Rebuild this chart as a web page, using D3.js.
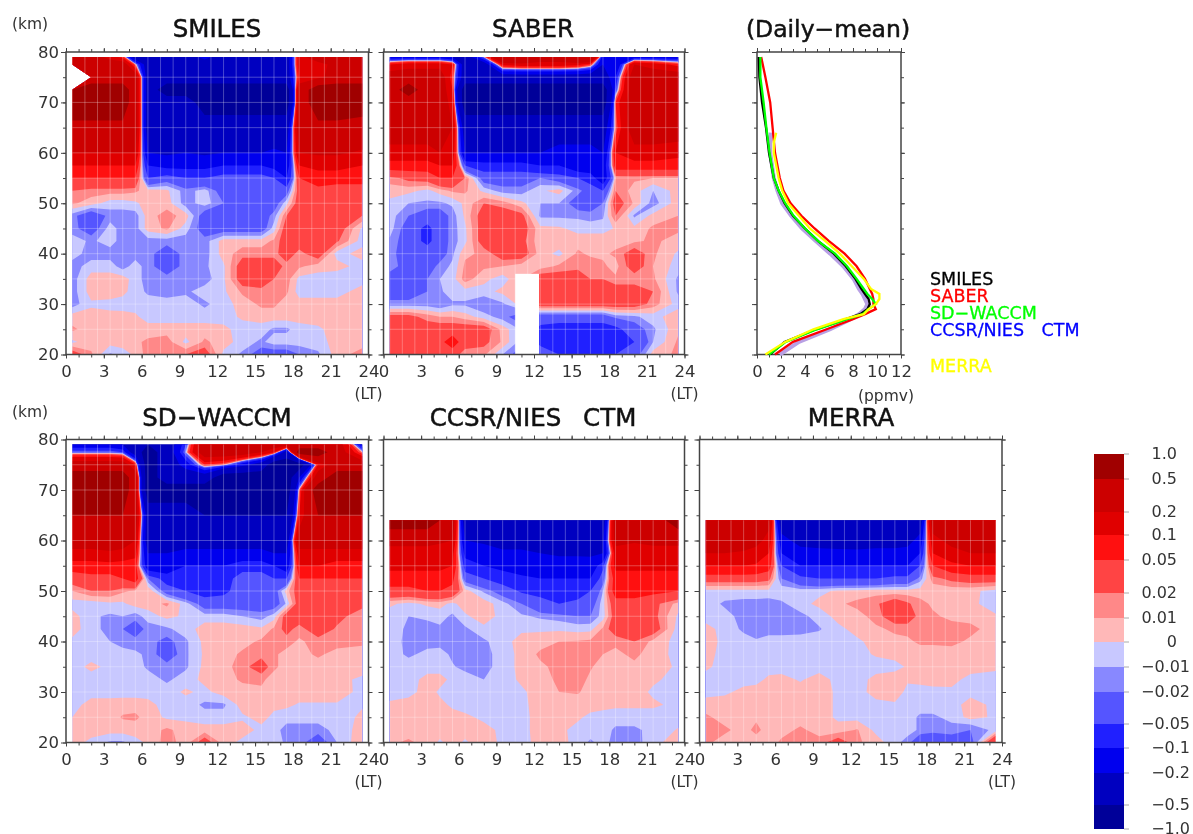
<!DOCTYPE html>
<html>
<head>
<meta charset="utf-8">
<title>Diurnal ozone variation</title>
<script src="https://cdn.jsdelivr.net/npm/d3@7"></script>
<style>
  html, body { margin: 0; padding: 0; background: #fff; }
  svg { display: block; filter: blur(0.45px); }
  text { font-family: "DejaVu Sans", sans-serif; fill: #333; }
  .axis line { stroke: #444; stroke-width: 1; }
  .axis path { display: none; }
  .axis text { font-family: "DejaVu Sans", sans-serif; font-size: 16.5px; fill: #333; }
  .title { fill: #111; stroke: #111; stroke-width: 0.5px; }
</style>
</head>
<body>
<svg id="chart" width="1193" height="834"></svg>
<script>
// local time and altitude of the grid columns and rows
var ltCols = [0.5, 2, 3.5, 4.5, 5.5, 6.5, 8, 9.5, 11, 12.5, 14, 15.5, 16.5, 17.5, 18.5, 20, 21.5, 23.5];
var kmFull = [79, 77.5, 75, 72.5, 70, 65, 60, 57.5, 55, 52.5, 50, 47.5, 45, 42.5, 40, 37.5, 35, 32.5, 30, 27.5, 25, 22.5, 20];
var kmLow = [64, 60, 57.5, 55, 52.5, 50, 47.5, 45, 42.5, 40, 37.5, 35, 32.5, 30, 27.5, 25, 22.5, 20];

var levels = [-1, -0.5, -0.2, -0.1, -0.05, -0.02, -0.01, 0, 0.01, 0.02, 0.05, 0.1, 0.2, 0.5, 1];
var levelLabels = ["\u22121.0", "\u22120.5", "\u22120.2", "\u22120.1", "\u22120.05", "\u22120.02", "\u22120.01", "0", "0.01", "0.02", "0.05", "0.1", "0.2", "0.5", "1.0"];
var bandColours = ["#000099", "#0000c0", "#0000ee", "#2020ff", "#5555ff", "#8888ff", "#c8c8ff", "#ffb8b8", "#ff8888", "#ff4444", "#ff1010", "#e00000", "#cc0000", "#a00000"];

var smiles = [
  [.3,.3,.15,.07,-.3,-.3,-.3,-.3,-.15,-.3,-.3,-.3,-.3,-.3,.15,.3,.3,.3],
  [.3,.3,.3,.3,.02,-.3,-.3,-.3,-.3,-.3,-.3,-.3,-.3,-.3,.15,.15,.25,.3],
  [null,.3,.3,.3,.3,-.3,-.3,-.3,-.3,-.3,-.3,-.3,-.3,-.3,.1,.15,.3,.3],
  [.7,.7,.7,.7,.3,-.3,-.7,-.7,-.7,-.7,-.7,-.7,-.7,-.7,.3,.7,.7,.7],
  [.7,.7,.7,.7,.3,-.3,-.3,-.3,-.7,-.7,-.7,-.7,-.7,-.7,.3,.7,.7,.7],
  [.42,.42,.42,.42,.3,-.3,-.3,-.3,-.3,-.3,-.3,-.3,-.3,-.3,.3,.42,.42,.35],
  [.2,.2,.2,.2,.2,-.2,-.22,-.2,-.22,-.2,-.2,-.2,-.18,-.2,.2,.22,.22,.18],
  [.1,.1,.1,.1,.1,-.1,-.12,-.12,-.12,-.1,-.1,-.1,-.12,-.15,.1,.12,.12,.1],
  [.05,.05,.05,.05,.05,-.05,-.03,-.05,-.05,-.03,-.03,-.03,-.05,-.1,.05,.07,.07,.07],
  [.02,.015,.015,.015,.012,.005,.002,-.015,-.005,-.03,-.03,-.03,-.03,-.03,.03,.04,.03,.03],
  [.012,.005,-.005,-.005,-.002,.005,.005,-.015,-.005,-.02,-.03,-.03,-.03,-.003,.03,.04,.03,.03],
  [-.015,-.035,-.015,-.015,-.015,.005,.015,.005,-.03,-.03,-.03,-.03,-.015,.02,.03,.04,.03,.02],
  [-.015,-.03,-.005,-.015,-.015,.005,.012,-.005,-.03,-.03,-.03,-.03,-.005,.03,.03,.03,.03,-.002],
  [-.005,-.012,-.005,-.015,-.015,-.015,-.015,-.015,-.015,.005,.005,.005,.012,.03,.03,.03,.022,-.005],
  [-.005,-.015,-.015,-.015,-.015,-.015,-.03,-.015,-.015,.005,.015,.015,.015,.03,.015,.03,-.005,.005],
  [-.015,-.005,-.005,-.015,-.005,-.015,-.03,-.015,-.012,-.002,.03,.03,.03,.015,.012,.005,.005,-.005],
  [-.015,.005,.005,.005,-.005,-.015,-.015,-.015,-.015,-.002,.03,.03,.02,.015,-.003,-.005,-.008,-.005],
  [-.015,.005,.008,.003,-.005,-.012,-.015,-.012,-.005,-.002,.012,.016,.015,.012,-.005,-.005,-.005,.005],
  [-.015,-.002,-.005,-.005,-.005,-.005,-.005,-.005,-.012,-.005,.005,.012,.012,.005,.005,.005,.005,.005],
  [.005,.005,.005,.004,.002,-.005,-.005,-.005,-.005,-.005,.002,.005,.005,.005,.005,.005,.005,.005],
  [.012,.005,.005,.005,.005,.005,.005,.005,.005,.003,-.005,-.005,-.012,-.012,-.005,-.002,.005,.005],
  [-.002,.005,.005,.005,.008,.012,.015,-.003,.012,.005,-.005,-.012,-.005,-.005,-.005,-.005,.005,.005],
  [.03,.012,-.012,-.005,.002,.015,.02,.02,.03,-.003,-.012,-.03,-.03,-.03,-.02,-.012,.005,.015]
];

var saber = [
  [-.15,-.15,-.15,-.15,-.2,-.3,-.01,.5,.5,.3,.3,.5,.5,-.15,-.15,-.15,-.15,-.15],
  [.1,.15,.15,.15,.1,-.3,-.3,.12,.15,.15,.15,.12,.05,-.2,-.2,.2,.15,.07],
  [.3,.3,.3,.3,.05,-.3,-.3,-.3,-.3,-.3,-.3,-.3,-.3,-.3,-.1,.3,.3,.3],
  [.3,.7,.3,.3,.1,-.7,-.7,-.7,-.7,-.7,-.7,-.7,-.7,-.7,-.05,.3,.3,.3],
  [.3,.3,.3,.3,.15,-.7,-.7,-.7,-.7,-.7,-.7,-.7,-.7,-.7,.05,.3,.3,.3],
  [.3,.3,.3,.3,.2,-.3,-.3,-.3,-.3,-.3,-.3,-.3,-.3,-.3,.02,.3,.3,.3],
  [.15,.15,.15,.2,.15,-.2,-.2,-.2,-.2,-.2,-.15,-.15,-.15,-.2,.1,.15,.15,.12],
  [.07,.07,.07,.1,.1,-.05,-.07,-.07,-.07,-.1,-.1,-.15,-.15,-.15,.07,.07,.07,.07],
  [.015,.025,.03,.05,.05,.02,-.03,-.03,-.03,-.02,-.03,-.05,-.07,-.15,.01,.012,.01,.01],
  [.005,.003,-.003,.005,.012,.012,-.003,-.015,-.015,-.002,.004,-.015,-.03,-.05,.02,.005,-.01,.005],
  [-.003,-.01,-.012,-.012,-.008,.003,.02,.015,.003,-.01,-.01,-.03,-.03,-.02,.03,.008,-.015,.006],
  [-.005,-.02,-.03,-.03,-.015,.002,.03,.03,.025,-.012,-.012,-.012,-.015,-.012,.02,-.012,.004,.01],
  [-.005,-.03,-.06,-.03,-.015,-.002,.03,.03,.03,.003,.002,-.004,-.004,-.004,.001,.003,.012,.012],
  [-.012,-.03,-.06,-.03,-.015,-.003,.03,.03,.025,.003,.006,.006,.006,.006,.006,.008,.012,.006],
  [-.015,-.03,-.03,-.03,-.012,.008,.012,.03,.03,.005,-.003,.012,.008,.008,.012,.03,.012,-.002],
  [-.012,-.03,-.03,-.015,-.008,.012,.012,.01,.005,.005,.012,.016,.016,.012,.006,.03,.01,-.005],
  [-.03,-.03,-.02,-.01,-.005,.015,.003,-.005,.01,.03,.03,.03,.02,.02,.012,.012,.012,-.012],
  [-.03,-.03,-.02,-.012,-.004,-.004,-.004,.003,.01,.03,.03,.03,.03,.03,.03,.03,.02,-.012],
  [-.015,-.015,-.015,-.02,-.012,-.012,-.02,-.012,.005,.03,.03,.03,.03,.03,.03,.03,.015,-.005],
  [.025,.025,.015,.01,.01,.005,-.005,-.015,-.03,-.03,-.03,-.03,-.03,-.03,-.015,-.012,-.005,.008],
  [.03,.03,.03,.03,.03,.03,.03,.006,-.012,-.06,-.07,-.07,-.07,-.07,-.06,-.03,-.012,.008],
  [.03,.03,.03,.04,.07,.03,.025,.008,-.015,-.06,-.07,-.07,-.07,-.07,-.07,-.05,-.01,.012],
  [.03,.03,.03,.03,.03,.012,.012,-.01,-.03,-.03,-.05,-.05,-.05,-.05,-.05,-.03,.005,.012]
];

var waccm = [
  [-.15,-.15,-.15,-.2,-.3,-.5,-.3,-.05,.3,.3,.3,.3,.3,.3,.3,.3,.3,-.15],
  [-.03,-.03,-.03,-.05,-.3,-.7,-.3,-.01,.3,.3,.3,.2,.1,-.3,.7,.7,.3,.01],
  [.3,.3,.3,.3,.1,-.7,-.3,-.15,.05,.01,-.15,-.3,-.7,-.7,-.7,.1,.3,.3],
  [.7,.7,.7,.7,.3,-.7,-.3,-.3,-.3,-.7,-.7,-.7,-.7,-.7,-.2,.3,.7,.7],
  [.7,.7,.7,.7,.3,-.7,-.7,-.7,-.7,-.7,-.7,-.7,-.7,-.7,.02,.7,.7,.7],
  [.5,.5,.5,.5,.3,-.3,-.3,-.3,-.5,-.5,-.5,-.5,-.5,-.5,.1,.5,.5,.5],
  [.3,.3,.3,.3,.2,-.3,-.3,-.3,-.3,-.3,-.3,-.3,-.3,-.3,.3,.3,.3,.3],
  [.15,.15,.18,.15,.12,-.2,-.2,-.15,-.15,-.15,-.15,-.15,-.2,-.2,.15,.15,.15,.15],
  [.07,.07,.07,.07,.07,-.15,-.15,-.1,-.1,-.1,-.07,-.07,-.1,-.15,.1,.1,.07,.07],
  [.03,.04,.04,.05,.07,-.02,-.07,-.07,-.07,-.07,-.03,-.03,-.05,-.05,.05,.05,.05,.05],
  [.01,.02,.02,.012,.008,.01,-.03,-.05,-.07,-.06,-.03,-.03,-.03,.005,.03,.03,.03,.03],
  [-.005,-.005,-.002,-.002,.005,.005,.012,-.005,-.03,-.03,-.03,-.03,-.03,-.008,.03,.03,.03,.025],
  [.005,-.008,-.012,-.01,-.015,-.005,.003,-.002,-.005,-.005,-.01,-.015,-.005,.03,.03,.03,.025,.012],
  [.004,-.005,-.015,-.02,-.03,-.015,-.012,-.005,.005,.005,.005,.002,.012,.025,.015,.03,.018,.01],
  [-.002,-.005,-.01,-.015,-.015,-.015,-.025,-.012,.003,.006,.006,.012,.012,.015,.008,.015,.015,.012],
  [-.005,-.005,-.005,-.005,-.008,-.012,-.03,-.012,.002,.005,.012,.015,.012,.006,.006,.012,.006,.006],
  [-.005,.003,-.003,-.005,-.005,-.012,-.015,-.012,.003,.006,.015,.03,.012,.006,.005,.005,.005,.005],
  [-.005,-.005,-.005,-.005,-.005,-.005,-.012,-.005,.003,.005,.012,.012,.006,.005,.005,.005,.003,-.002],
  [-.005,-.005,-.005,-.005,-.005,-.005,-.005,.002,-.003,.005,.005,.008,.005,.005,.005,.005,.005,-.003],
  [-.005,.005,.005,.006,.006,.004,-.005,-.005,-.012,-.012,.005,.005,.003,.002,-.001,-.001,-.001,-.001],
  [0,0,.006,.011,.012,.006,-.002,-.003,-.006,-.006,-.002,.004,-.003,-.005,-.005,-.005,-.005,.002],
  [.005,.005,.005,.005,.005,.005,.012,.006,.005,.005,.005,-.003,-.005,-.015,-.015,-.015,-.006,.004],
  [.005,-.003,-.012,-.012,-.004,.002,.015,.005,.03,.005,-.003,-.005,-.005,-.012,-.015,-.03,-.01,.008]
];

var ctm = [
  [.7,.7,.7,.5,.3,-.3,-.3,-.3,-.3,-.3,-.3,-.3,-.3,-.3,.3,.3,.3,.7],
  [.25,.25,.25,.22,.2,-.2,-.22,-.25,-.25,-.25,-.25,-.25,-.25,-.2,.25,.22,.25,.25],
  [.14,.14,.14,.14,.12,-.12,-.15,-.18,-.18,-.2,-.22,-.22,-.22,-.2,.14,.12,.13,.13],
  [.12,.12,.12,.12,.1,-.07,-.1,-.12,-.13,-.14,-.14,-.14,-.15,-.06,.12,.12,.12,.12],
  [.07,.07,.07,.07,.06,-.03,-.05,-.07,-.09,-.1,-.1,-.1,-.1,-.03,.07,.07,.07,.07],
  [.04,.04,.05,.05,.04,.005,-.012,-.03,-.055,-.06,-.07,-.07,-.05,-.01,.07,.07,.06,.05],
  [.002,-.003,.002,.004,-.003,.006,.006,-.006,-.02,-.04,-.05,-.04,-.03,-.004,.035,.035,.025,.006],
  [-.005,-.01,-.008,-.006,-.012,-.002,.006,-.004,-.008,-.012,-.015,-.02,-.02,-.005,.03,.03,.025,-.002],
  [-.005,-.012,-.014,-.012,-.015,-.012,-.003,-.003,-.002,-.002,-.002,-.004,-.003,.012,.03,.03,.03,-.005],
  [-.005,-.013,-.014,-.014,-.014,-.014,-.012,-.004,.004,.006,.01,.011,.012,.012,.012,.02,.007,-.004],
  [-.005,-.012,-.007,-.006,-.012,-.015,-.014,-.005,.003,.012,.014,.014,.012,.01,.008,.012,.006,-.004],
  [-.005,-.005,-.005,-.005,-.009,-.013,-.014,-.005,.003,.008,.013,.014,.011,.006,.006,.008,.006,-.002],
  [-.005,-.005,.004,.004,-.003,-.005,-.01,-.005,.002,.006,.012,.014,.008,.005,.005,.005,.002,-.004],
  [-.005,-.004,.005,-.002,-.005,-.005,-.005,-.005,-.002,.005,.01,.011,.006,.005,.005,.005,-.002,-.003],
  [.002,.005,.005,.003,-.002,-.004,-.005,-.005,-.003,.005,.005,.005,.005,.004,.002,.002,.002,-.003],
  [.005,.005,.005,.005,.004,.002,-.002,-.005,-.004,.005,.005,.002,-.003,-.005,-.005,-.005,-.005,-.005],
  [.005,.005,.005,.005,.005,.005,.003,-.002,-.004,.005,.003,-.004,-.005,-.005,-.012,-.012,-.007,.001],
  [.008,.012,.006,-.002,.005,-.002,.007,-.003,-.004,.004,.004,-.004,-.012,-.006,-.014,-.013,-.006,.01]
];

var merra = [
  [.3,.3,.3,.3,.25,-.3,-.3,-.3,-.4,-.3,-.3,-.3,-.3,-.3,.3,.3,.3,.3],
  [.3,.3,.3,.25,.15,-.15,-.25,-.28,-.3,-.3,-.28,-.28,-.25,-.15,.15,.25,.3,.3],
  [.2,.2,.18,.15,.1,-.1,-.15,-.15,-.15,-.16,-.15,-.15,-.15,-.1,.1,.15,.2,.2],
  [.1,.1,.1,.09,.07,-.05,-.1,-.1,-.1,-.1,-.1,-.1,-.1,-.05,.05,.08,.1,.1],
  [.03,.03,.03,.03,.025,-.02,-.04,-.05,-.05,-.05,-.05,-.04,-.04,-.015,.015,.025,.03,.03],
  [-.003,-.003,-.003,-.003,-.003,-.003,-.004,-.003,.002,.003,.005,.004,.004,.004,.003,.003,.002,-.003],
  [-.004,-.012,-.014,-.014,-.015,-.012,-.004,.003,.008,.013,.018,.03,.022,.014,.008,.006,.002,-.004],
  [-.005,-.006,-.014,-.017,-.016,-.015,-.013,-.006,.004,.006,.014,.032,.03,.015,.012,.007,.006,.001],
  [.004,-.004,-.012,-.014,-.014,-.014,-.014,-.011,-.003,.004,.008,.012,.013,.014,.015,.015,.013,.005],
  [.005,-.003,-.006,-.009,-.006,-.006,-.005,-.005,-.003,-.002,.004,.007,.008,.012,.012,.013,.008,.005],
  [.004,-.004,-.004,-.004,-.004,-.004,-.004,-.004,-.004,-.003,.001,.003,.004,.005,.005,.005,.005,.005],
  [.002,-.004,-.004,-.004,-.004,-.004,-.004,-.004,-.004,-.004,-.004,-.003,.001,.004,.004,.004,.004,.002],
  [-.004,-.004,-.004,-.003,.002,.003,-.001,.004,-.003,-.004,.003,.005,.001,.003,.004,.003,-.003,-.004],
  [-.004,-.002,.003,.004,.004,.004,.004,.005,-.002,-.004,.004,.004,-.002,-.004,-.003,-.002,-.004,-.004],
  [.005,.005,.005,.005,.005,.005,.005,.005,-.002,-.004,-.003,-.001,-.004,-.005,-.005,-.005,.005,-.003],
  [.012,.006,.005,.008,.005,.005,.005,.005,-.002,-.004,-.004,-.005,-.005,-.012,-.012,-.007,.004,-.002],
  [.012,.012,.006,.013,.005,.006,.012,.006,.004,.011,-.003,-.008,-.005,-.012,-.014,-.014,-.02,-.006],
  [.012,.006,.008,.005,.005,.012,.014,.014,.03,.012,.005,-.006,-.015,-.035,-.04,-.03,-.03,.05]
];

// daily-mean profiles (ppmv against km)
var profileKm = [20, 22.5, 25, 27, 28, 29, 30, 31, 32, 33, 35, 37.5, 40, 42.5, 45, 47.5, 50, 52.5, 55, 60, 65, 70, 75, 79];
var profileKmLow = [20, 22.5, 25, 27, 28, 29, 30, 31, 32, 33, 35, 37.5, 40, 42.5, 45, 47.5, 50, 52.5, 55, 60, 62, 64];
var smilesMean = [1.1, 2.3, 4.9, 7.4, 8.6, 9.2, 9.4, 9.3, 9, 8.7, 8.2, 7.4, 6.4, 5.1, 4, 3, 2.3, 1.8, 1.4, 1, .75, .42, .2, .15];
var saberMean = [1.5, 3, 5.8, 8, 9, 9.9, 9.7, 9.7, 9.6, 9.4, 9, 8.3, 7.3, 6, 4.8, 3.7, 2.8, 2.2, 1.9, 1.5, 1.3, 1.1, .7, .35];
var waccmMean = [1, 2.4, 5, 7.5, 8.8, 9.3, 9.9, 9.6, 9.2, 8.9, 8.3, 7.5, 6.5, 5.1, 4, 3.05, 2.35, 1.8, 1.4, 1.05, .78, .55, .28, .28];
var ctmMean = [1.9, 3.5, 6.1, 7.8, 8.5, 9, 9.2, 9, 8.8, 8.5, 8.05, 7.2, 6.1, 4.9, 3.75, 2.85, 2.1, 1.7, 1.4, 1.1, 1.1, 1.15];
var merraMean = [.7, 2.35, 4.7, 7.2, 8.9, 9.3, 9.9, 10.2, 10.2, 9.5, 8.9, 7.9, 6.9, 5.7, 4.4, 3.5, 2.6, 2.1, 1.8, 1.4, 1.4, 1.6];

var legendNames = ["SMILES", "SABER", "SD\u2212WACCM", "CCSR/NIES CTM", "MERRA"];
var legendColours = ["#000000", "#ff0000", "#00ff00", "#0000ff", "#ffff00"];
var legendY = [285, 302, 319, 336, 372];

var ltTicks = [0, 3, 6, 9, 12, 15, 18, 21, 24];
var kmTicks = [20, 30, 40, 50, 60, 70, 80];
var ppmvTicks = [0, 2, 4, 6, 8, 10, 12];

var svg = d3.select("#chart");

function axes(g, x, y, majorX, minorX, width, height) {
  var majorY = kmTicks;
  var minorY = d3.range(20, 81, 5);
  g.append("rect")
    .attr("width", width).attr("height", height)
    .attr("fill", "none").attr("stroke", "#444").attr("stroke-width", 1.5);

  g.append("g").attr("class", "axis")
    .call(d3.axisTop(x).tickValues(minorX).tickSize(3).tickFormat(""));
  g.append("g").attr("class", "axis")
    .call(d3.axisTop(x).tickValues(majorX).tickSize(4).tickFormat(""));
  g.append("g").attr("class", "axis")
    .attr("transform", "translate(0," + height + ")")
    .call(d3.axisBottom(x).tickValues(minorX).tickSize(3).tickFormat(""));
  g.append("g").attr("class", "axis")
    .attr("transform", "translate(0," + height + ")")
    .call(d3.axisBottom(x).tickValues(majorX).tickSize(4).tickPadding(7).tickFormat(d3.format("d")));

  g.append("g").attr("class", "axis")
    .call(d3.axisLeft(y).tickValues(minorY).tickSize(3).tickFormat(""));
  g.append("g").attr("class", "axis")
    .attr("transform", "translate(" + width + ",0)")
    .call(d3.axisRight(y).tickValues(minorY).tickSize(3).tickFormat(""));
  g.append("g").attr("class", "axis")
    .attr("transform", "translate(" + width + ",0)")
    .call(d3.axisRight(y).tickValues(majorY).tickSize(4).tickFormat(""));
  return g;
}

function contourPanel(opts) {
  var width = opts.right - opts.left;
  var height = opts.bottom - opts.top;
  var x = d3.scaleLinear().domain([0, 24]).range([0, width]);
  var y = d3.scaleLinear().domain([20, 80]).range([height, 0]);
  var km = opts.km;
  var rows = km.length;
  var cols = ltCols.length;

  // contour coordinates are cell corners, so shift by half a cell and clamp
  var colToLt = d3.scaleLinear().domain(d3.range(cols)).range(ltCols).clamp(true);
  var rowToKm = d3.scaleLinear().domain(d3.range(rows)).range(km).clamp(true);
  var project = d3.geoTransform({
    point: function(px, py) {
      this.stream.point(x(colToLt(px - 0.5)), y(rowToKm(py - 0.5)));
    }
  });
  var path = d3.geoPath(project);

  var g = svg.append("g").attr("transform", "translate(" + opts.left + "," + opts.top + ")");

  opts.values.forEach(function(r) {
    if (r.length !== cols) console.warn("bad row", opts.title, r);
  });

  var contours = d3.contours().size([cols, rows]).thresholds(levels.slice(0, -1));
  g.selectAll("path.band")
    .data(contours(d3.merge(opts.values)))
    .enter().append("path")
      .attr("class", "band")
      .attr("d", path)
      .attr("fill", function(d, i) { return bandColours[i]; });

  // the data grid shows through as thin pale lines
  var topKm = km[0];
  g.selectAll("line.gridx")
    .data(d3.range(0.5, 24, 1))
    .enter().append("line")
      .attr("class", "gridx")
      .attr("x1", x).attr("x2", x)
      .attr("y1", y(20)).attr("y2", y(topKm))
      .attr("stroke", "#fff").attr("stroke-opacity", 0.28);
  g.selectAll("line.gridy")
    .data(d3.range(25, topKm, 5))
    .enter().append("line")
      .attr("class", "gridy")
      .attr("x1", x(0.5)).attr("x2", x(23.5))
      .attr("y1", y).attr("y2", y)
      .attr("stroke", "#fff").attr("stroke-opacity", 0.28);

  if (opts.gap) {
    g.append("rect")
      .attr("x", x(opts.gap.lt[0]))
      .attr("y", y(opts.gap.km[1]))
      .attr("width", x(opts.gap.lt[1]) - x(opts.gap.lt[0]))
      .attr("height", y(opts.gap.km[0]) - y(opts.gap.km[1]))
      .attr("fill", "#fff");
  }

  axes(g, x, y, ltTicks, d3.range(0, 25, 1), width, height);

  if (opts.kmLabels) {
    g.append("g").attr("class", "axis")
      .call(d3.axisLeft(y).tickValues(kmTicks).tickSize(5).tickPadding(2).tickFormat(d3.format("d")));
    svg.append("text").attr("x", 12).attr("y", opts.top - 23)
      .attr("font-size", 15.5).text("(km)");
  } else {
    g.append("g").attr("class", "axis")
      .call(d3.axisLeft(y).tickValues(kmTicks).tickSize(5).tickFormat(""));
  }

  svg.append("text")
    .attr("x", opts.right + 14).attr("y", opts.bottom + 44)
    .attr("text-anchor", "end").attr("font-size", 15.5).text("(LT)");

  svg.append("text")
    .attr("class", "title")
    .attr("x", opts.titleX).attr("y", opts.titleY)
    .attr("text-anchor", "middle").attr("font-size", 24.5)
    .style("word-spacing", "14px")
    .text(opts.title);
}

contourPanel({title: "SMILES", values: smiles, km: kmFull, left: 66, right: 368.5, top: 52, bottom: 354.5, titleX: 217, titleY: 37, kmLabels: true});
contourPanel({title: "SABER", values: saber, km: kmFull, left: 383.5, right: 684.5, top: 52, bottom: 354.5, titleX: 533, titleY: 37,
  gap: {lt: [10.5, 12.4], km: [20, 36]}});
contourPanel({title: "SD\u2212WACCM", values: waccm, km: kmFull, left: 66, right: 368.5, top: 439.5, bottom: 742.5, titleX: 217, titleY: 426, kmLabels: true});
contourPanel({title: "CCSR/NIES CTM", values: ctm, km: kmLow, left: 383.5, right: 684.5, top: 439.5, bottom: 742.5, titleX: 533, titleY: 426});
contourPanel({title: "MERRA", values: merra, km: kmLow, left: 699.5, right: 1002, top: 439.5, bottom: 742.5, titleX: 851, titleY: 426});

// daily-mean panel
(function() {
  var left = 757, right = 901, top = 52, bottom = 354.5;
  var width = right - left, height = bottom - top;
  var x = d3.scaleLinear().domain([0, 12]).range([0, width]);
  var y = d3.scaleLinear().domain([20, 80]).range([height, 0]);
  var g = svg.append("g").attr("transform", "translate(" + left + "," + top + ")");

  axes(g, x, y, ppmvTicks, d3.range(0, 13, 1), width, height);
  g.append("g").attr("class", "axis")
    .call(d3.axisLeft(y).tickValues(kmTicks).tickSize(5).tickFormat(""));

  var series = [
    {values: ctmMean, km: profileKmLow, colour: "#b8a0e4", width: 4},
    {values: smilesMean, km: profileKm, colour: "#000000", width: 2.3},
    {values: saberMean, km: profileKm, colour: "#ff0000", width: 2.3},
    {values: waccmMean, km: profileKm, colour: "#00ff00", width: 2.3},
    {values: merraMean, km: profileKmLow, colour: "#ffff00", width: 2.3}
  ];
  series.forEach(function(s) {
    var line = d3.line()
      .x(function(d) { return x(d); })
      .y(function(d, i) { return y(s.km[i]); });
    g.append("path")
      .attr("d", line(s.values))
      .attr("fill", "none")
      .attr("stroke", s.colour)
      .attr("stroke-width", s.width);
  });

  svg.append("text").attr("class", "title").attr("x", 828).attr("y", 37)
    .attr("text-anchor", "middle").attr("font-size", 23.5).text("(Daily\u2212mean)");
  svg.append("text").attr("x", 914).attr("y", 401)
    .attr("text-anchor", "end").attr("font-size", 15.5).text("(ppmv)");

  svg.selectAll("text.legend")
    .data(legendNames)
    .enter().append("text")
      .attr("class", "legend")
      .attr("x", 930)
      .attr("y", function(d, i) { return legendY[i]; })
      .attr("font-size", 17.5)
      .style("word-spacing", "12px")
      .style("fill", function(d, i) { return legendColours[i]; })
      .style("stroke", function(d, i) { return legendColours[i]; })
      .style("stroke-width", "0.3px")
      .text(function(d) { return d; });
})();

// colour bar, one octave is about the same height on both sides of zero
(function() {
  var barLeft = 1094, barWidth = 30;
  var barPos = [829, 805, 773, 748, 724, 692, 667, 642, 618, 593, 560, 535, 512, 479, 454];
  var yBar = d3.scaleLinear().domain(d3.range(levels.length)).range(barPos);

  svg.selectAll("rect.bar")
    .data(bandColours)
    .enter().append("rect")
      .attr("class", "bar")
      .attr("x", barLeft)
      .attr("y", function(d, i) { return yBar(i + 1); })
      .attr("width", barWidth)
      .attr("height", function(d, i) { return yBar(i) - yBar(i + 1); })
      .attr("fill", function(d) { return d; });

  svg.selectAll("line.bartick")
    .data(levels)
    .enter().append("line")
      .attr("class", "bartick")
      .attr("x1", barLeft + barWidth).attr("x2", barLeft + barWidth + 5)
      .attr("y1", function(d, i) { return yBar(i); })
      .attr("y2", function(d, i) { return yBar(i); })
      .attr("stroke", "#aaa");

  svg.selectAll("text.barlabel")
    .data(levelLabels)
    .enter().append("text")
      .attr("class", "barlabel")
      .attr("x", function(d, i) { return levels[i] < 0 ? 1190 : 1177; })
      .attr("y", function(d, i) { return yBar(i) + 5; })
      .attr("text-anchor", "end")
      .attr("font-size", 16)
      .text(function(d) { return d; });
})();
</script>
</body>
</html>
